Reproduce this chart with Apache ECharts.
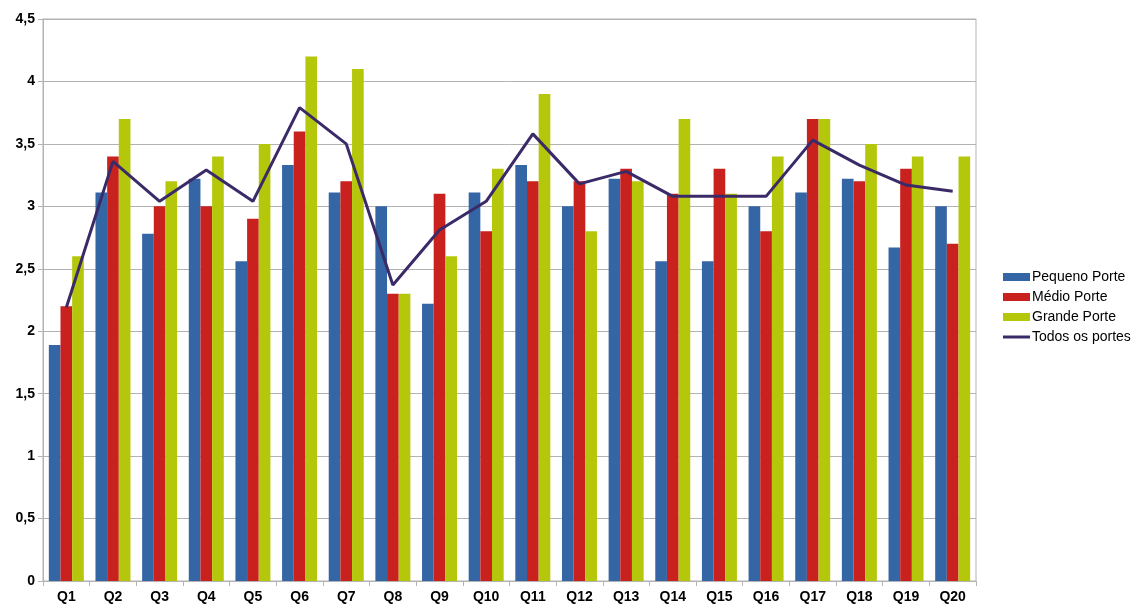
<!DOCTYPE html>
<html>
<head>
<meta charset="utf-8">
<script src="https://cdn.jsdelivr.net/npm/echarts@6/dist/echarts.min.js"></script>
<style>html,body{margin:0;padding:0;background:#fff}#c{width:1147px;height:616px}</style>
</head>
<body>
<div id="c"></div>
<script>
const categories = ['Q1','Q2','Q3','Q4','Q5','Q6','Q7','Q8','Q9','Q10','Q11','Q12','Q13','Q14','Q15','Q16','Q17','Q18','Q19','Q20'];
const pequeno = [1.89,3.11,2.78,3.22,2.56,3.33,3.11,3.0,2.22,3.11,3.33,3.0,3.22,2.56,2.56,3.0,3.11,3.22,2.67,3.0];
const medio   = [2.2,3.4,3.0,3.0,2.9,3.6,3.2,2.3,3.1,2.8,3.2,3.2,3.3,3.1,3.3,2.8,3.7,3.2,3.3,2.7];
const grande  = [2.6,3.7,3.2,3.4,3.5,4.2,4.1,2.3,2.6,3.3,3.9,2.8,3.2,3.7,3.1,3.4,3.7,3.5,3.4,3.4];
const todos   = [2.19,3.36,3.04,3.29,3.04,3.79,3.5,2.37,2.81,3.04,3.58,3.18,3.28,3.08,3.08,3.08,3.53,3.33,3.17,3.12];
const seriesNames = ['Pequeno Porte','Médio Porte','Grande Porte','Todos os portes'];

const chart = echarts.init(document.getElementById('c'), null, {renderer:'canvas'});
const font = 'Liberation Sans, Arial, sans-serif';
chart.setOption({
  animation: false,
  backgroundColor: '#fff',
  grid: {left: 43, right: 171, top: 19, bottom: 35, show: true, borderColor: '#b3b3b3', borderWidth: 1},
  legend: {
    orient: 'vertical', left: 998, top: 265, itemWidth: 27, itemHeight: 8, itemGap: 6,
    textStyle: {fontFamily: font, fontSize: 14, color: '#000', padding: [0,0,0,-3]},
    data: [
      {name: seriesNames[0], icon: 'rect'},
      {name: seriesNames[1], icon: 'rect'},
      {name: seriesNames[2], icon: 'rect'},
      {name: seriesNames[3], icon: 'path://M0,0 L27,0 L27,3 L0,3 Z'}
    ]
  },
  xAxis: {
    type: 'category', data: categories,
    axisLine: {lineStyle: {color: '#b3b3b3'}},
    axisTick: {show: true, length: 5, lineStyle: {color: '#b3b3b3'}},
    axisLabel: {fontFamily: font, fontSize: 14, fontWeight: 'bold', color: '#000', margin: 9}
  },
  yAxis: {
    type: 'value', min: 0, max: 4.5, interval: 0.5,
    axisLine: {show: true, lineStyle: {color: '#b3b3b3'}},
    axisTick: {show: true, length: 5, lineStyle: {color: '#b3b3b3'}},
    splitLine: {lineStyle: {color: '#b3b3b3'}},
    axisLabel: {fontFamily: font, fontSize: 14, fontWeight: 'bold', color: '#000', margin: 8,
      formatter: v => String(v).replace('.', ',')}
  },
  series: [
    {name: seriesNames[0], type: 'bar', data: pequeno, itemStyle: {color: '#3465a4'}, barGap: '0%', barCategoryGap: '25%'},
    {name: seriesNames[1], type: 'bar', data: medio, itemStyle: {color: '#c9211e'}, barGap: '0%', barCategoryGap: '25%'},
    {name: seriesNames[2], type: 'bar', data: grande, itemStyle: {color: '#b4c70a'}, barGap: '0%', barCategoryGap: '25%'},
    {name: seriesNames[3], type: 'line', data: todos, symbol: 'none', lineStyle: {color: '#3b2a68', width: 3}, itemStyle: {color: '#3b2a68'}, z: 5}
  ]
});
</script>
</body>
</html>
